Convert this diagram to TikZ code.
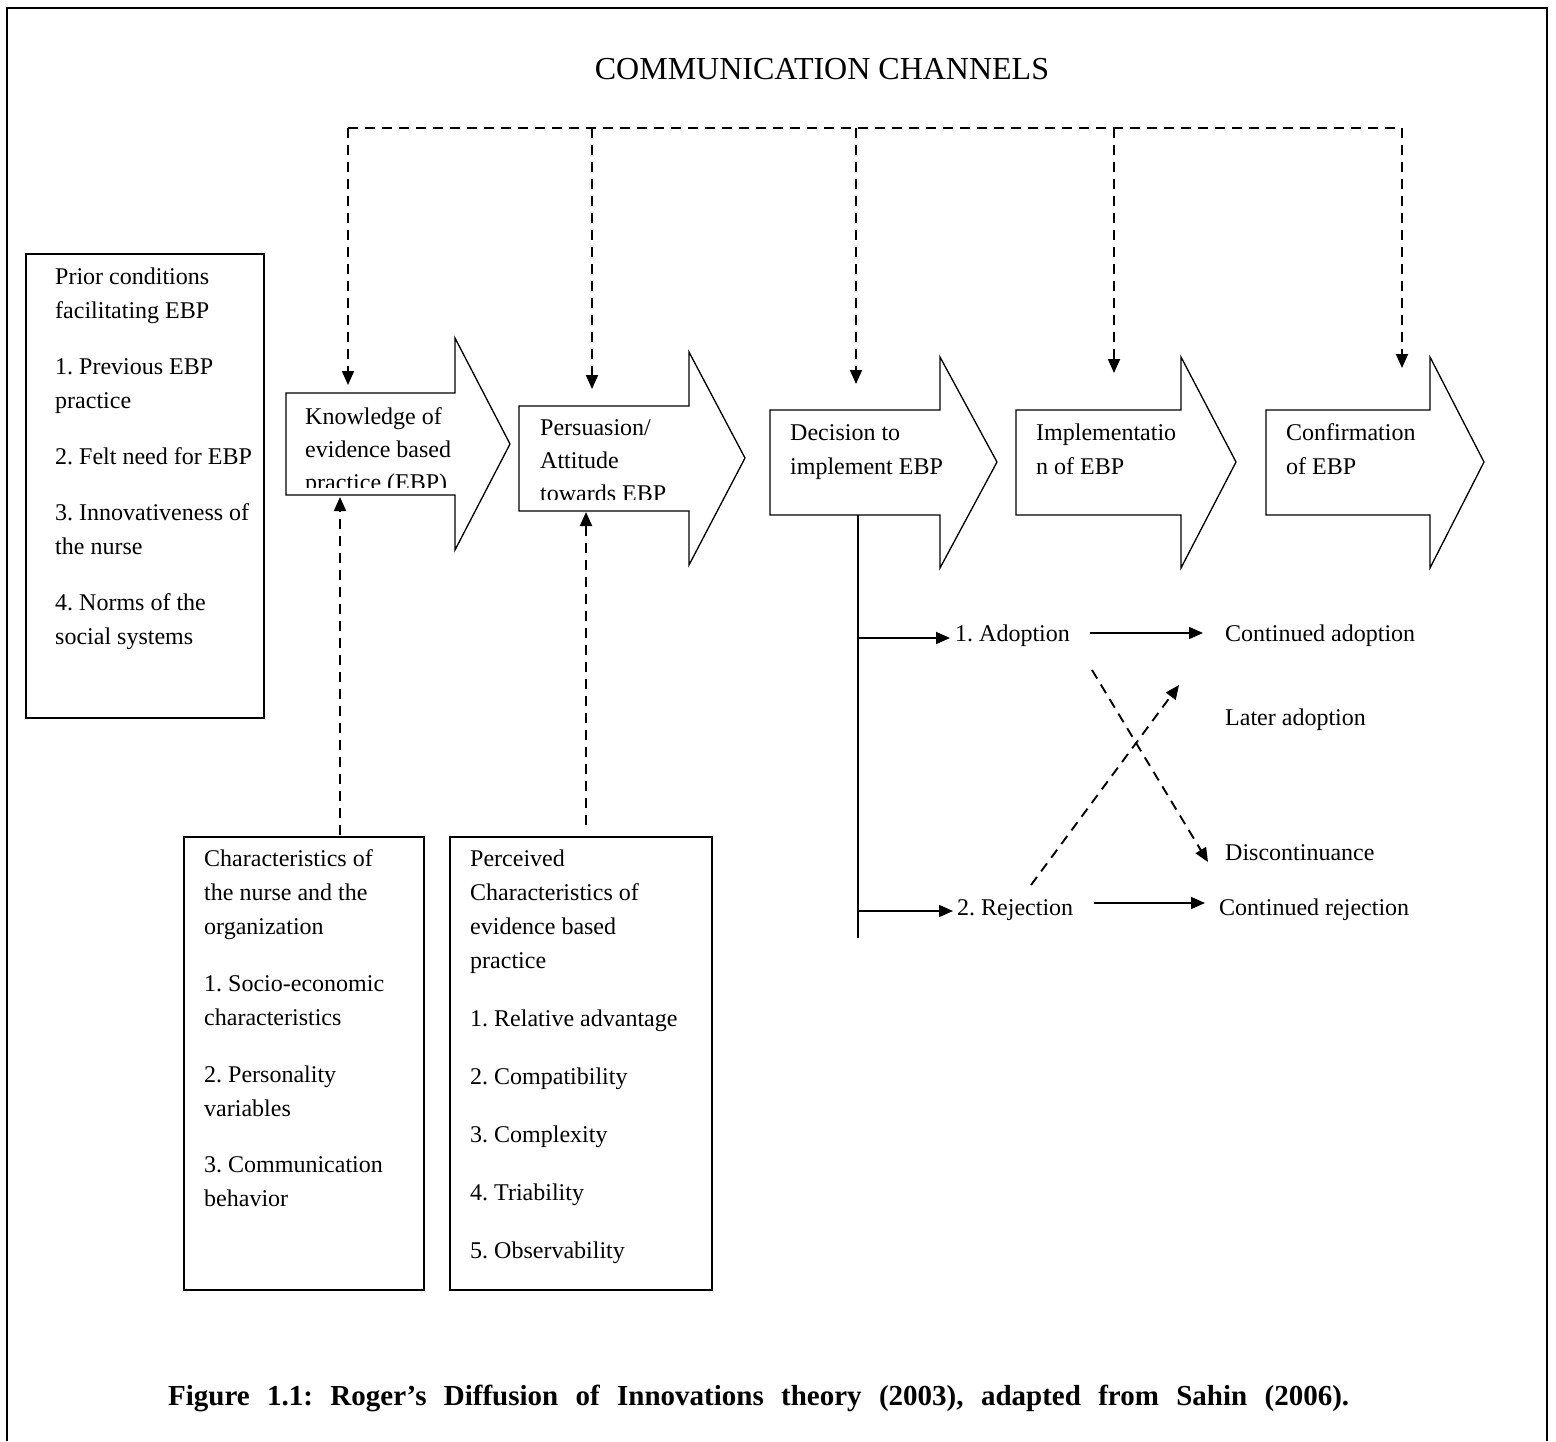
\documentclass[tikz,border=0pt]{standalone}
\usepackage{fontspec}
\setmainfont{Liberation Serif}
\usetikzlibrary{arrows.meta}
\frenchspacing
\tikzset{
  framebox/.style={line width=2pt},
  plainbox/.style={draw, line width=1.6pt},
  blockarrow/.style={draw, line width=1.3pt, line join=miter},
  dashline/.style={line width=1.9pt, dash pattern=on 10pt off 7pt},
  dasharrow/.style={dashline, -{Triangle[length=14pt,width=12pt]}},
  solidarrow/.style={line width=1.7pt, -{Triangle[length=14pt,width=12pt]}},
  txt/.style={inner sep=0pt, anchor=base west, font=\fontsize{24}{33}\selectfont},
}
\newcommand{\boxtext}[2]{\parbox[t]{#1}{\fontsize{24}{34}\selectfont\frenchspacing\raggedright #2}}
\begin{document}
\begin{tikzpicture}[x=1pt,y=-1pt]
\useasboundingbox (0,0) rectangle (1556,1441);
% outer frame (open at the bottom)
\draw[framebox] (7,1441) -- (7,8) -- (1547,8) -- (1547,1441);

% title
\node[inner sep=0pt, anchor=base, font=\fontsize{32}{36}\selectfont] (title) at (822,79) {COMMUNICATION CHANNELS};

% left box
\draw[plainbox] (26,254) rectangle (264,718);
\node[inner sep=0pt, anchor=base west] (prior) at (55,284) {\boxtext{205pt}{Prior conditions\\ facilitating EBP\\[22pt] 1. Previous EBP\\ practice\\[22pt] 2. Felt need for EBP\\[22pt] 3. Innovativeness of\\ the nurse\\[22pt] 4. Norms of the\\ social systems}};

% block arrows
\draw[blockarrow] (286,393) -- (455,393) -- (455,338) -- (510,444) -- (455,550) -- (455,495) -- (286,495) -- cycle;
\draw[blockarrow] (519,406) -- (689,406) -- (689,352) -- (745,458) -- (689,565) -- (689,511) -- (519,511) -- cycle;
\draw[blockarrow] (770,410) -- (940,410) -- (940,357) -- (997,462) -- (940,568) -- (940,515) -- (770,515) -- cycle;
\draw[blockarrow] (1016,410) -- (1181,410) -- (1181,357) -- (1236,462) -- (1181,568) -- (1181,515) -- (1016,515) -- cycle;
\draw[blockarrow] (1266,410) -- (1430,410) -- (1430,357) -- (1484,462) -- (1430,568) -- (1430,515) -- (1266,515) -- cycle;

\begin{scope}
\clip (287,394) rectangle (454,487);
\node[txt] (know) at (305,424) {\parbox[t]{160pt}{\fontsize{24}{33}\selectfont Knowledge of\\ evidence based\\ practice (EBP)}};
\end{scope}
\begin{scope}
\clip (520,407) rectangle (688,499);
\node[txt] (pers) at (540,435) {\parbox[t]{160pt}{\fontsize{24}{33}\selectfont Persuasion/\\ Attitude\\ towards EBP}};
\end{scope}
\node[txt] (deci) at (790,440) {\parbox[t]{160pt}{\fontsize{24}{34}\selectfont Decision to\\ implement EBP}};
\node[txt] (impl) at (1036,440) {\parbox[t]{160pt}{\fontsize{24}{34}\selectfont Implementatio\\ n of EBP}};
\node[txt] (conf) at (1286,440) {\parbox[t]{160pt}{\fontsize{24}{34}\selectfont Confirmation\\ of EBP}};

% communication channel connectors
\coordinate (c1) at (348,128);
\coordinate (c2) at (592,128);
\coordinate (c3) at (856,128);
\coordinate (c4) at (1114,128);
\coordinate (c5) at (1402,128);
\coordinate (k-in) at (348,385);
\coordinate (p-in) at (592,389);
\coordinate (d-in) at (856,384);
\coordinate (i-in) at (1114,373);
\coordinate (f-in) at (1402,368);
\draw[dashline] (c1) -- (c5);
\draw[dasharrow] (c1) -- (k-in);
\draw[dasharrow] (c2) -- (p-in);
\draw[dasharrow] (c3) -- (d-in);
\draw[dasharrow] (c4) -- (i-in);
\draw[dasharrow] (c5) -- (f-in);

% lower boxes
\draw[plainbox] (184,837) rectangle (424,1290);
\node[inner sep=0pt, anchor=base west] (charac) at (204,866) {\boxtext{210pt}{Characteristics of\\ the nurse and the\\ organization\\[23pt] 1. Socio-economic\\ characteristics\\[23pt] 2. Personality\\ variables\\[22pt] 3. Communication\\ behavior}};
\draw[plainbox] (450,837) rectangle (712,1290);
\node[inner sep=0pt, anchor=base west] (perc) at (470,866) {\boxtext{240pt}{Perceived\\ Characteristics of\\ evidence based\\ practice\\[24pt] 1. Relative advantage\\[24pt] 2. Compatibility\\[24pt] 3. Complexity\\[24pt] 4. Triability\\[24pt] 5. Observability}};

\coordinate (ch-top) at (340,835);
\coordinate (k-bot) at (340,497);
\coordinate (pc-top) at (586,825);
\coordinate (p-bot) at (586,512);
\draw[dasharrow] (ch-top) -- (k-bot);
\draw[dasharrow] (pc-top) -- (p-bot);

% decision outcomes
\coordinate (dl-top) at (858,515);
\coordinate (dl-bot) at (858,938);
\coordinate (dl-a) at (858,638);
\coordinate (dl-r) at (858,911);
\draw[line width=1.7pt] (dl-top) -- (dl-bot);

\node[txt] (adopt) at (955,641) {1. Adoption};
\node[txt] (reject) at (957,915) {2. Rejection};
\node[txt] (contad) at (1225,641) {Continued adoption};
\node[txt] (later) at (1225,725) {Later adoption};
\node[txt] (discon) at (1225,860) {Discontinuance};
\node[txt] (contrej) at (1219,915) {Continued rejection};

\coordinate (a-in) at (950,638);
\coordinate (r-in) at (953,911);
\draw[solidarrow] (dl-a) -- (a-in);
\draw[solidarrow] (dl-r) -- (r-in);
\coordinate (a-out) at (1090,633);
\coordinate (ca-in) at (1203,633);
\coordinate (r-out) at (1094,903);
\coordinate (cr-in) at (1205,903);
\draw[solidarrow] (a-out) -- (ca-in);
\draw[solidarrow] (r-out) -- (cr-in);

\coordinate (d1) at (1092,670);
\coordinate (d2) at (1208,862);
\coordinate (u1) at (1031,885);
\coordinate (u2) at (1179,685);
\draw[dasharrow] (d1) -- (d2);
\draw[dasharrow] (u1) -- (u2);

% caption
\node[inner sep=0pt, anchor=base west, font=\bfseries\fontsize{29}{32}\selectfont] (caption) at (168,1405) {\makebox[1181pt][s]{Figure 1.1: Roger’s Diffusion of Innovations theory (2003), adapted from Sahin (2006).}};
\end{tikzpicture}
\end{document}
